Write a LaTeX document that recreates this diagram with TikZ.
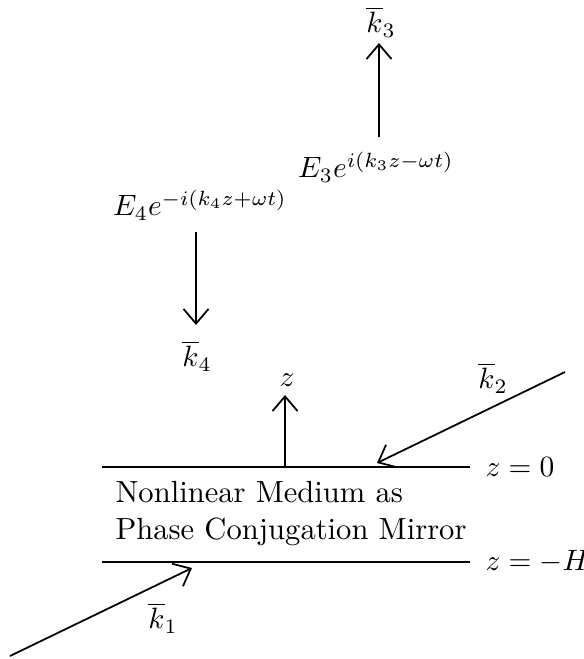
\documentclass[tikz,border=0pt]{standalone}
\usepackage{amsmath, amssymb}
\usepackage{tikz}
\usetikzlibrary{arrows.meta}

\begin{document}
\begin{tikzpicture}
                [x=0.34pt, y=-0.34pt,
                every node/.style={inner sep=1pt},
                beam/.style={line width=0.6pt,-{Straight Barb[length=5pt,width=8.5pt,line width=0.6pt]}},
                plane/.style={line width=0.6pt}]
                \useasboundingbox (0,0) rectangle (583,659);
                % wave labels
                \node (kthree) at (381,22) {$\overline{k}_3$};
                \node (Ethree) at (376,167) {$E_3e^{i(k_3z-\omega t)}$};
                \node (Efour) at (200,205) {$E_4e^{-i(k_4z+\omega t)}$};
                \node (kfour) at (197,356) {$\overline{k}_4$};
                \coordinate (k3start) at (379,137);
                \coordinate (k3end) at (379,43);
                \coordinate (k4start) at (196,232);
                \coordinate (k4end) at (196,325);
                \draw[beam] (k3start) -- (k3end);
                \draw[beam] (k4start) -- (k4end);
                % the medium
                \coordinate (topL) at (102,467);
                \coordinate (topR) at (470,467);
                \coordinate (botL) at (102,562);
                \coordinate (botR) at (470,562);
                \draw[plane] (topL) -- (topR);
                \draw[plane] (botL) -- (botR);
                \node[anchor=west] (ztop) at (482,467) {$z=0$};
                \node[anchor=west] (zbot) at (482,562) {$z=-H$};
                \node[anchor=west, align=left, font=\fontsize{10.4}{12.6}\selectfont] (medium) at (112,514)
                {Nonlinear Medium as\\Phase Conjugation Mirror};
                % z axis
                \coordinate (zbase) at (285,467);
                \coordinate (ztip) at (285,395);
                \node (zlab) at (287,380) {$z$};
                \draw[beam] (zbase) -- (ztip);
                % pump waves
                \coordinate (k2start) at (565,372);
                \coordinate (k2end) at (377,463);
                \node (ktwo) at (493,378) {$\overline{k}_2$};
                \draw[beam] (k2start) -- (k2end);
                \coordinate (k1start) at (10,656);
                \coordinate (k1end) at (192,568);
                \node (kone) at (163,618) {$\overline{k}_1$};
                \draw[beam] (k1start) -- (k1end);
            \end{tikzpicture}
\end{document}
